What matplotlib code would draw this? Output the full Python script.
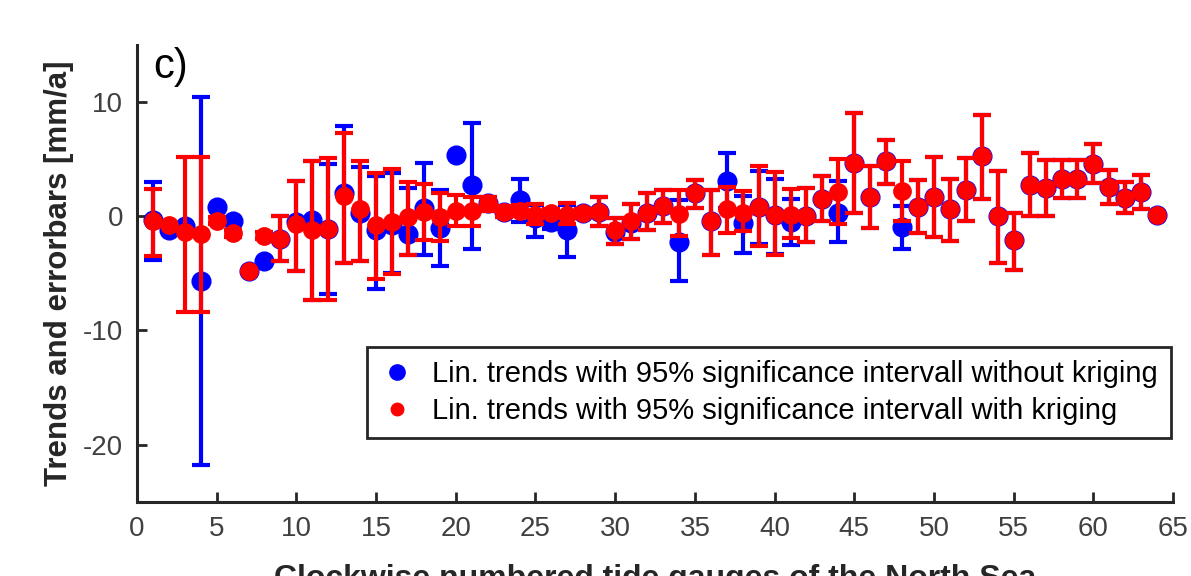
import matplotlib
matplotlib.use("Agg")
import matplotlib.pyplot as plt
from matplotlib.lines import Line2D
import numpy as np

plt.rcParams['font.family'] = ['Liberation Sans', 'DejaVu Sans']
plt.rcParams['axes.unicode_minus'] = False

stations = list(range(1, 65))

# with kriging (red): value, lower bound, upper bound
red_val = [-0.4, -0.8, -1.4, -1.6, -0.4, -1.5, -4.8, -1.7, -2.0, -0.7,
           -1.2, -1.1, 1.8, 0.6, -0.8, -0.5, -0.1, 0.4, -0.1, 0.5,
           0.5, 1.15, 0.4, 0.5, 0.1, 0.3, 0.1, 0.3, 0.4, -1.2,
           -0.4, 0.3, 0.9, 0.2, 2.0, -0.45, 0.6, 0.3, 0.8, 0.1,
           0.1, 0.05, 1.5, 2.1, 4.7, 1.7, 4.8, 2.25, 0.85, 1.7,
           0.6, 2.3, 5.3, 0.0, -2.05, 2.75, 2.5, 3.25, 3.25, 4.6,
           2.55, 1.6, 2.15, 0.1]
red_lo = [-3.5, -0.8, -8.4, -8.4, -0.7, -1.8, -4.8, -2.0, -3.9, -4.8,
          -7.3, -7.3, -4.1, -3.9, -5.5, -5.1, -3.4, -2.1, -2.2, -0.9,
          -0.9, 0.5, -0.1, 0.0, -0.7, 0.0, -0.7, 0.0, -0.9, -2.4,
          -2.0, -1.2, -0.6, -1.7, 0.7, -3.4, -1.5, -1.3, -2.6, -3.4,
          -1.9, -2.3, -0.45, -0.7, 0.3, -1.0, 2.8, -0.45, -1.5, -1.8,
          -2.2, -0.4, 1.5, -4.1, -4.7, 0.05, 0.05, 1.6, 1.6, 2.9,
          1.1, 0.3, 0.6, 0.1]
red_hi = [2.4, -0.8, 5.2, 5.2, -0.1, -1.2, -4.8, -1.4, 0.0, 3.1,
          4.8, 5.1, 7.3, 4.8, 3.8, 4.1, 3.0, 2.8, 2.0, 1.9,
          1.7, 1.7, 0.9, 1.0, 1.1, 0.6, 1.15, 0.6, 1.7, -0.2,
          1.1, 2.0, 2.3, 2.3, 3.2, 2.3, 2.6, 2.2, 4.4, 3.9,
          2.4, 2.5, 3.5, 5.0, 9.0, 4.4, 6.7, 4.8, 3.2, 5.2,
          3.3, 5.1, 8.9, 4.0, 0.3, 5.5, 4.9, 4.9, 4.9, 6.3,
          4.05, 3.0, 3.6, 0.1]

# without kriging (blue): value, lower bound, upper bound
blue_val = [-0.3, -1.2, -0.9, -5.7, 0.8, -0.4, -4.8, -3.9, -2.0, -0.5,
            -0.3, -1.1, 2.0, 0.3, -1.2, -0.8, -1.6, 0.7, -1.0, 5.4,
            2.7, 1.2, 0.4, 1.4, -0.2, -0.5, -1.2, 0.3, 0.4, -1.4,
            -0.6, 0.3, 0.9, -2.3, 2.0, -0.45, 3.1, -0.6, 0.8, 0.1,
            -0.5, 0.05, 1.5, 0.3, 4.7, 1.7, 4.8, -0.95, 0.85, 1.7,
            0.6, 2.3, 5.3, 0.0, -2.05, 2.75, 2.5, 3.25, 3.25, 4.6,
            2.55, 1.6, 2.15, 0.1]
blue_lo = [-3.8, -1.2, -0.9, -21.8, 0.8, -0.4, -4.8, -3.9, -3.9, -4.8,
           -7.3, -6.8, -4.1, -3.9, -6.4, -5.0, -3.4, -3.4, -4.4, 5.4,
           -2.9, 0.5, -0.1, -0.5, -1.8, -1.1, -3.6, 0.0, -0.9, -2.4,
           -2.0, -1.2, -0.6, -5.7, 0.7, -3.4, 0.7, -3.2, -2.4, -3.3,
           -2.5, -2.3, -0.45, -2.3, 0.3, -1.0, 2.8, -2.9, -1.5, -1.8,
           -2.2, -0.4, 1.5, -4.1, -4.7, 0.05, 0.05, 1.6, 1.6, 2.9,
           1.1, 0.3, 0.6, 0.1]
blue_hi = [3.0, -1.2, -0.9, 10.4, 0.8, -0.4, -4.8, -3.9, 0.0, 3.1,
           4.8, 4.6, 7.9, 4.3, 3.5, 3.8, 2.5, 4.7, 2.3, 5.4,
           8.2, 1.7, 0.9, 3.3, 1.0, 0.1, 1.0, 0.6, 1.7, -0.2,
           1.1, 2.0, 2.3, 1.4, 3.2, 2.3, 5.5, 1.8, 4.0, 3.3,
           1.5, 2.5, 3.5, 3.1, 9.0, 4.4, 6.7, 0.9, 3.2, 5.2,
           3.3, 5.1, 8.9, 4.0, 0.3, 5.5, 4.9, 4.9, 4.9, 6.3,
           4.05, 3.0, 3.6, 0.1]

x_ticks = list(range(0, 66, 5))
y_ticks = [-20, -10, 0, 10]

legend_labels = ["Lin. trends with 95% significance intervall without kriging",
                 "Lin. trends with 95% significance intervall with kriging"]

axis_col = '#262626'
tick_col = '#404040'

fig = plt.figure(figsize=(11.91, 5.76), dpi=100)
ax = fig.add_axes([0.115, 0.129, 0.870, 0.793])

def yerr(v, lo, hi):
    v = np.array(v); lo = np.array(lo); hi = np.array(hi)
    return np.vstack([v - lo, hi - v])

ax.errorbar(stations, blue_val, yerr=yerr(blue_val, blue_lo, blue_hi),
            fmt='o', color='#0000ff', ecolor='#0000ff', markersize=13.5,
            elinewidth=3, capsize=6.5, capthick=3, zorder=2)
ax.errorbar(stations, red_val, yerr=yerr(red_val, red_lo, red_hi),
            fmt='o', color='#ff0000', ecolor='#ff0000', markersize=12.5,
            elinewidth=3, capsize=6.5, capthick=3, zorder=3)

ax.set_xlim(0, 65)
ax.set_ylim(-25, 15)
ax.set_xticks(x_ticks)
ax.set_yticks(y_ticks)
for s in ['top', 'right']:
    ax.spines[s].set_visible(False)
for s in ['left', 'bottom']:
    ax.spines[s].set_linewidth(2.2)
    ax.spines[s].set_color(axis_col)
ax.tick_params(direction='in', length=7, width=2, colors=axis_col,
               labelcolor=tick_col, labelsize=20, pad=10)

ax.set_ylabel("Trends and errorbars [mm/a]", fontsize=22.5, fontweight='bold',
              color=axis_col, labelpad=6)
ax.set_xlabel("Clockwise numbered tide gauges of the North Sea", fontsize=23,
              fontweight='bold', color=axis_col, labelpad=16)

ax.text(0.016, 0.995, "c)", transform=ax.transAxes, fontsize=30,
        ha='left', va='top', color='black')

handles = [Line2D([], [], marker='o', linestyle='none', color='#0000ff', markersize=11),
           Line2D([], [], marker='o', linestyle='none', color='#ff0000', markersize=9)]
leg = ax.legend(handles, legend_labels, loc='lower right',
                bbox_to_anchor=(0.998, 0.139), borderaxespad=0,
                fontsize=21, fancybox=False, framealpha=1, edgecolor='#262626',
                handlelength=1.2, handletextpad=0.6, borderpad=0.45,
                labelspacing=0.3)
leg.get_frame().set_linewidth(2)

fig.savefig("out.png", dpi=100)
